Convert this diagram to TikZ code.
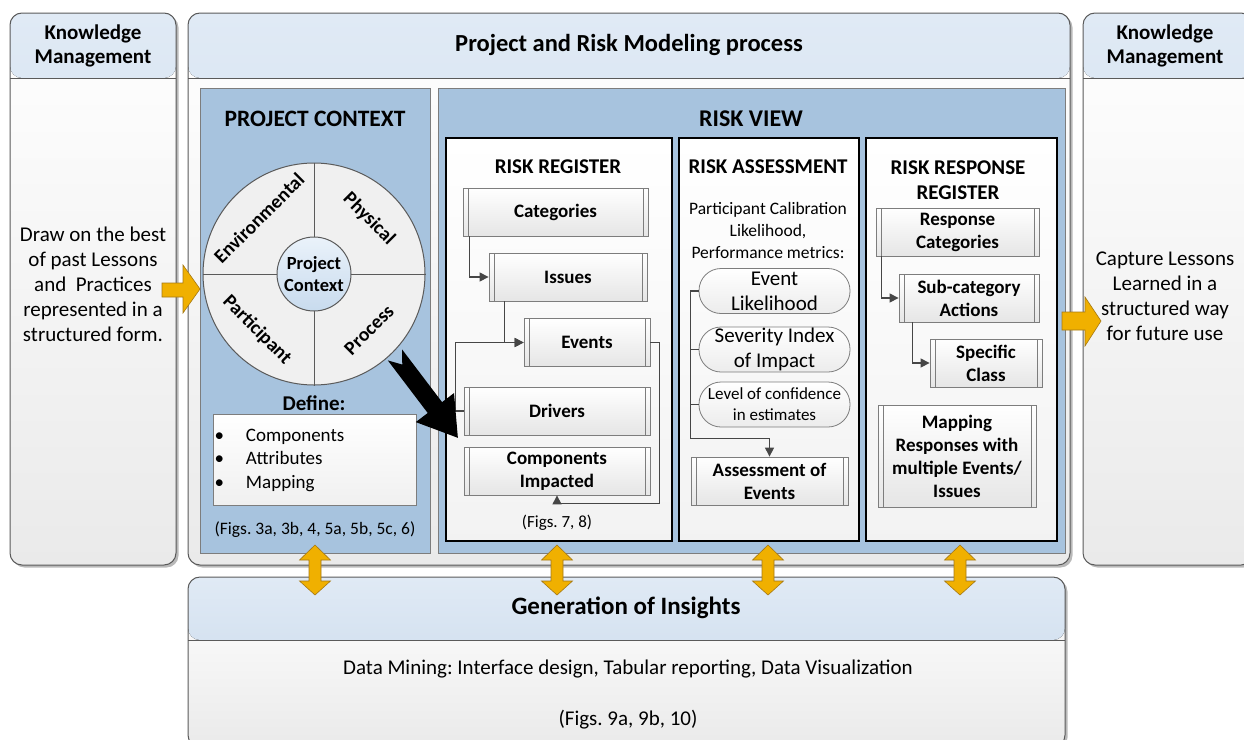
\documentclass[tikz,border=0pt]{standalone}
\usepackage{fontspec}
\setmainfont{Carlito}
\usetikzlibrary{arrows.meta,shadows,positioning}

\definecolor{panelblue}{RGB}{167,195,222}
\definecolor{headtop}{RGB}{224,234,245}
\definecolor{headbot}{RGB}{196,214,233}
\definecolor{bodybot}{RGB}{234,234,234}
\definecolor{framegray}{RGB}{90,90,90}
\definecolor{boxgray}{RGB}{125,125,125}
\definecolor{wheelgray}{RGB}{240,240,240}
\definecolor{hubtop}{RGB}{234,242,250}
\definecolor{hubbot}{RGB}{200,219,238}
\definecolor{gold}{RGB}{240,176,0}
\definecolor{golddark}{RGB}{165,120,20}
\definecolor{linkgray}{RGB}{70,70,70}

\newcommand{\fsz}[2]{\fontsize{#1}{#2}\selectfont}

\tikzset{
  frame/.style={draw=framegray, line width=1pt, rounded corners=12pt,
    top color=white, bottom color=bodybot, inner sep=0pt,
    drop shadow={shadow xshift=2.5pt, shadow yshift=-2.5pt, fill=black!50, opacity=.55},
    path picture={
      \fill[top color=headtop, bottom color=headbot]
        (path picture bounding box.north west) rectangle ([yshift=-#1]path picture bounding box.north east);
      \draw[framegray, line width=1pt]
        ([yshift=-#1]path picture bounding box.north west) -- ([yshift=-#1]path picture bounding box.north east);}},
  panel/.style={draw=boxgray, line width=0.8pt, fill=panelblue, inner sep=0pt},
  sub/.style={draw=black, line width=2.4pt, top color=white, bottom color=gray!10, inner sep=0pt},
  pbox/.style={draw=boxgray, line width=0.8pt, top color=white, bottom color=gray!20,
    minimum height=48pt, inner sep=2pt, align=center, font=\bfseries\fsz{19}{23},
    path picture={\draw[boxgray, line width=0.8pt]
      ([xshift=5pt]path picture bounding box.north west) -- ([xshift=5pt]path picture bounding box.south west)
      ([xshift=-5pt]path picture bounding box.north east) -- ([xshift=-5pt]path picture bounding box.south east);}},
  pill/.style={draw=boxgray, line width=0.8pt, rounded corners=22pt, top color=white, bottom color=gray!15,
    minimum width=151pt, minimum height=45pt, inner sep=0pt, align=center, font=\fsz{21}{25}},
  ttl/.style={font=\bfseries\fsz{21}{24}, align=center},
  txt/.style={font=\fsz{21}{25}, align=center},
  quad/.style={font=\bfseries\fsz{19.5}{22}},
  link/.style={draw=linkgray, line width=1.1pt, ->, >={Triangle[length=9pt,width=9pt]}},
  wire/.style={draw=linkgray, line width=1.1pt},
  yarrow/.style={fill=gold, draw=golddark, line width=0.6pt, line join=miter}
}

\begin{document}
\frenchspacing
\begin{tikzpicture}[x=1pt,y=-1pt]
\useasboundingbox (0,0) rectangle (1244,739);

% outer frames
\node[frame=65pt, minimum width=166pt, minimum height=552pt] (K1) at (93,289) {};
\node[frame=65pt, minimum width=882pt, minimum height=552pt] (M) at (629,289) {};
\node[frame=65pt, minimum width=170pt, minimum height=552pt] (K2) at (1168,289) {};
\node[frame=63pt, minimum width=877pt, minimum height=170pt] (G) at (626.5,662) {};

\node[ttl] (K1t) at (93,46) {Knowledge\\Management};
\node[ttl] (K2t) at (1165,46) {Knowledge\\Management};
\node[ttl, font=\bfseries\fsz{24.5}{28}] (Mt) at (629,45) {Project and Risk Modeling process};
\node[txt] (K1b) at (93,284) {Draw on the best\\of past Lessons\\and~~Practices\\represented in a\\structured form.};
\node[txt] (K2b) at (1165,296) {Capture Lessons\\Learned in a\\structured way\\for future use};

% project context
\node[panel, minimum width=230pt, minimum height=465pt] (PC) at (315,320.5) {};
\node[ttl, font=\bfseries\fsz{23.5}{26}] (PCt) at (315,119) {PROJECT CONTEXT};

\node[circle, draw=framegray, line width=1pt, fill=wheelgray, minimum size=222pt] (W) at (314,274) {};
\draw[framegray, line width=1pt] (W.north) -- (W.south) (W.west) -- (W.east);
\node[circle, draw=framegray, line width=1pt, top color=hubtop, bottom color=hubbot, minimum size=74pt,
  inner sep=0pt, align=center, font=\bfseries\fsz{18.5}{22}] (W0) at (W) {Project\\Context};
\node[quad, rotate=45] (W1) at (259,218) {Environmental};
\node[quad, rotate=-45] (W2) at (369,219) {Physical};
\node[quad, rotate=-45] (W3) at (257,330) {Participant};
\node[quad, rotate=45] (W4) at (369,330) {Process};

\node[ttl] (Dt) at (314,403) {Define:};
\node[draw=boxgray, line width=0.8pt, top color=white, bottom color=gray!12, minimum width=203pt, minimum height=91pt] (D) at (314.5,459.5) {};
\node[anchor=west, align=left, font=\fsz{19}{23.5}] (Dl) at (211,460)
  {\textbullet\hspace{22pt}Components\\\textbullet\hspace{22pt}Attributes\\\textbullet\hspace{22pt}Mapping};
\node[font=\fsz{17.5}{21}] (PCf) at (315,530) {(Figs. 3a, 3b, 4, 5a, 5b, 5c, 6)};

% risk view
\node[panel, minimum width=627pt, minimum height=465pt] (RV) at (751.5,320.5) {};
\node[ttl, font=\bfseries\fsz{24}{26}] (RVt) at (751,119) {RISK VIEW};
\node[sub, minimum width=226pt, minimum height=403pt] (RR) at (559,339.5) {};
\node[sub, minimum width=180pt, minimum height=403pt] (RA) at (769,339.5) {};
\node[sub, minimum width=191pt, minimum height=403pt] (RS) at (961.5,339.5) {};

% risk register
\node[ttl] (RRt) at (558,167) {RISK REGISTER};
\node[pbox, minimum width=185pt] (A1) at (555.5,212) {Categories};
\node[pbox, minimum width=158pt] (A2) at (568,277) {Issues};
\node[pbox, minimum width=126pt] (A3) at (587,342.5) {Events};
\node[pbox, minimum width=186pt] (A4) at (557,411) {Drivers};
\node[pbox, minimum width=186pt] (A5) at (557,471) {Components\\Impacted};
\node[font=\fsz{17}{20}] (RRf) at (557,523) {(Figs. 7, 8)};

\path[link] ([xshift=7pt]A1.south west) |- (A2.west);
\path[link] ([xshift=16pt]A2.south west) |- (A3.west);
\path[link] (A4.west) -- ++(-8,0) |- (A3.west);
\path[link] (A3.east) -- ++(9,0) |- ([yshift=-8pt]A5.south) -- (A5.south);

% risk assessment
\node[ttl] (RAt) at (768,167) {RISK ASSESSMENT};
\node[font=\fsz{17.5}{22}, align=center] (RAs) at (768,230) {Participant Calibration\\Likelihood,\\Performance metrics:};
\node[pill] (B1) at (774.5,291) {Event\\Likelihood};
\node[pill] (B2) at (774.5,349.5) {Severity Index\\of Impact};
\node[pill, font=\fsz{17}{21}] (B3) at (774.5,404.5) {Level of confidence\\in estimates};
\node[pbox, minimum width=157pt] (B4) at (769.5,481) {Assessment of\\Events};

\path[link] (B1.west) -- ++(-8,0) |- ([yshift=18pt]B4.north) -- (B4.north);
\path[wire] (B2.west) -- ++(-8,0);
\path[wire] (B3.west) -- ++(-8,0);

% risk response register
\node[ttl, font=\bfseries\fsz{21}{25}] (RSt) at (958,180) {RISK RESPONSE\\REGISTER};
\node[pbox, minimum width=163pt] (C1) at (957.5,232) {Response\\Categories};
\node[pbox, minimum width=140pt] (C2) at (969,298) {Sub-category\\Actions};
\node[pbox, minimum width=112pt] (C3) at (986,363) {Specific\\Class};
\node[pbox, minimum width=158pt, minimum height=102pt] (C4) at (957,456) {Mapping\\Responses with\\multiple Events/\\Issues};

\path[link] ([xshift=6pt]C1.south west) |- (C2.west);
\path[link] ([xshift=14pt]C2.south west) |- (C3.west);

% generation of insights
\node[ttl, font=\bfseries\fsz{25}{28}] (Gt) at (626,608) {Generation of Insights};
\node[txt] (Gb) at (628,669) {Data Mining: Interface design, Tabular reporting, Data Visualization};
\node[txt] (Gf) at (628,720) {(Figs. 9a, 9b, 10)};

% block arrows
\draw[yarrow] (162,283) -- (183,283) -- (183,265) -- (200,289) -- (183,313) -- (183,297) -- (162,297) -- cycle;
\draw[yarrow] (1062,312) -- (1085,312) -- (1085,297) -- (1101,321) -- (1085,346) -- (1085,330) -- (1062,330) -- cycle;

\draw[yarrow] (315,545) -- ++(15.5,15) -- ++(-9.5,0) -- ++(0,21) -- ++(9.5,0) -- ++(-15.5,14) -- ++(-15.5,-14) -- ++(9.5,0) -- ++(0,-21) -- ++(-9.5,0) -- cycle;
\draw[yarrow] (557,545) -- ++(15.5,15) -- ++(-9.5,0) -- ++(0,21) -- ++(9.5,0) -- ++(-15.5,14) -- ++(-15.5,-14) -- ++(9.5,0) -- ++(0,-21) -- ++(-9.5,0) -- cycle;
\draw[yarrow] (768,545) -- ++(15.5,15) -- ++(-9.5,0) -- ++(0,21) -- ++(9.5,0) -- ++(-15.5,14) -- ++(-15.5,-14) -- ++(9.5,0) -- ++(0,-21) -- ++(-9.5,0) -- cycle;
\draw[yarrow] (960,545) -- ++(15.5,15) -- ++(-9.5,0) -- ++(0,21) -- ++(9.5,0) -- ++(-15.5,14) -- ++(-15.5,-14) -- ++(9.5,0) -- ++(0,-21) -- ++(-9.5,0) -- cycle;

\begin{scope}[shift={(395,355)}, rotate=-52.8]
\fill[black] (0,-9) -- (12,0) -- (0,9) -- (66,9) -- (66,24) -- (104,0) -- (66,-24) -- (66,-9) -- cycle;
\end{scope}

\end{tikzpicture}
\end{document}
